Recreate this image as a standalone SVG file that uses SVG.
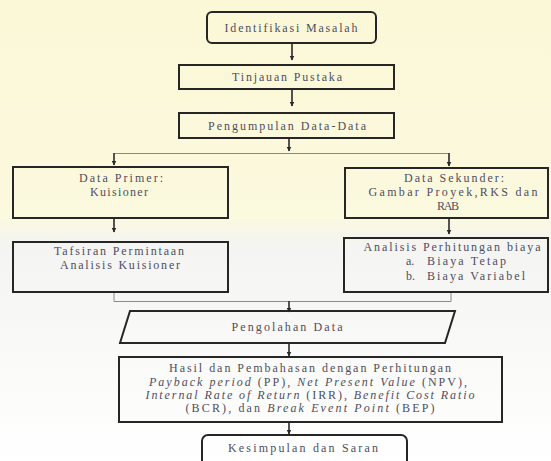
<svg xmlns="http://www.w3.org/2000/svg" width="551" height="461" viewBox="0 0 551 461">
<defs>
<marker id="ah" viewBox="0 0 10 10" refX="9" refY="5" markerWidth="5" markerHeight="5" orient="auto" markerUnits="userSpaceOnUse">
<path d="M0,0 L10,5 L0,10 z" fill="#2a2a2a"/>
</marker>
<linearGradient id="bg" x1="0" y1="0" x2="0" y2="1">
<stop offset="0" stop-color="#fbf8d8"/>
<stop offset="0.47" stop-color="#fbf9de"/>
<stop offset="0.53" stop-color="#f4f4f2"/>
<stop offset="1" stop-color="#ffffff"/>
</linearGradient>
</defs>
<style>
.box{fill:none;stroke:#262626;stroke-width:2}
.t{font-family:"Liberation Serif","Times New Roman",serif;font-size:12px;fill:#4e4e5e;text-anchor:middle}
.tl{font-family:"Liberation Serif","Times New Roman",serif;font-size:12px;fill:#4e4e5e}
.i{font-style:italic}
.arr{stroke:#2a2a2a;stroke-width:1.6;fill:none;marker-end:url(#ah)}
.ln{stroke:#8a8a8a;stroke-width:1;fill:none}
</style>
<rect x="0" y="0" width="551" height="461" fill="url(#bg)"/>

<g id="connectors">
<line class="arr" x1="292" y1="43" x2="292" y2="60"/>
<line class="arr" x1="292" y1="89" x2="292" y2="106"/>
<line class="arr" x1="289" y1="138" x2="289" y2="151"/>
<polyline class="ln" points="114,153.5 449,153.5"/>
<line class="arr" x1="114" y1="153" x2="114" y2="165"/>
<line class="arr" x1="449" y1="153" x2="449" y2="166"/>
<line class="arr" x1="114" y1="218" x2="114" y2="232"/>
<line class="arr" x1="449" y1="218" x2="449" y2="234"/>
<polyline class="ln" points="114,292 114,301.5 451,301.5 451,292"/>
<line class="arr" x1="289" y1="301" x2="289" y2="312"/>
<line class="arr" x1="289" y1="344" x2="289" y2="356"/>
<line class="arr" x1="289" y1="422" x2="289" y2="434"/>
</g>

<g id="identifikasi">
<rect class="box" x="207" y="12" width="169" height="31" rx="5"/>
<text class="t" x="291" y="32" textLength="133" lengthAdjust="spacing">Identifikasi  Masalah</text>
</g>
<g id="tinjauan">
<rect class="box" x="179" y="65" width="215" height="24"/>
<text class="t" x="287" y="81" textLength="110" lengthAdjust="spacing">Tinjauan  Pustaka</text>
</g>
<g id="pengumpulan">
<rect class="box" x="179" y="113" width="215" height="25"/>
<text class="t" x="287" y="130" textLength="158" lengthAdjust="spacing">Pengumpulan  Data-Data</text>
</g>
<g id="data-primer">
<rect class="box" x="13" y="167" width="215" height="51"/>
<text class="t" x="121" y="182" textLength="84" lengthAdjust="spacing">Data Primer:</text>
<text class="t" x="119" y="196" textLength="58" lengthAdjust="spacing">Kuisioner</text>
</g>
<g id="data-sekunder">
<rect class="box" x="345" y="168" width="203" height="50"/>
<text class="t" x="454" y="182" textLength="100" lengthAdjust="spacing">Data Sekunder:</text>
<text class="t" x="453" y="196" textLength="169" lengthAdjust="spacing">Gambar Proyek,RKS dan</text>
<text class="t" x="448" y="210" textLength="22" lengthAdjust="spacing">RAB</text>
</g>
<g id="tafsiran">
<rect class="box" x="13" y="242" width="215" height="50"/>
<text class="t" x="119" y="255" textLength="130" lengthAdjust="spacing">Tafsiran  Permintaan</text>
<text class="t" x="120" y="269" textLength="120" lengthAdjust="spacing">Analisis  Kuisioner</text>
</g>
<g id="analisis">
<rect class="box" x="344" y="238" width="204" height="54"/>
<text class="t" x="452" y="251" textLength="177" lengthAdjust="spacing">Analisis  Perhitungan  biaya</text>
<text class="tl" x="406" y="265">a.</text>
<text class="tl" x="427" y="265" textLength="79" lengthAdjust="spacing">Biaya Tetap</text>
<text class="tl" x="406" y="280">b.</text>
<text class="tl" x="427" y="280" textLength="98" lengthAdjust="spacing">Biaya Variabel</text>
</g>
<g id="pengolahan">
<polygon class="box" points="130,311 455,311 445,343 120,343"/>
<text class="t" x="287" y="331" textLength="111" lengthAdjust="spacing">Pengolahan  Data</text>
</g>
<g id="hasil">
<rect class="box" x="119" y="357" width="383" height="65"/>
<text class="t" x="310" y="372" textLength="282" lengthAdjust="spacing">Hasil  dan Pembahasan  dengan  Perhitungan</text>
<text class="t" x="308" y="386" textLength="318" lengthAdjust="spacing"><tspan class="i">Payback period</tspan> (PP), <tspan class="i">Net Present Value</tspan> (NPV),</text>
<text class="t" x="310" y="399" textLength="329" lengthAdjust="spacing"><tspan class="i">Internal Rate of Return</tspan> (IRR), <tspan class="i">Benefit Cost Ratio</tspan></text>
<text class="t" x="310" y="412" textLength="249" lengthAdjust="spacing">(BCR), dan <tspan class="i">Break Event Point</tspan> (BEP)</text>
</g>
<g id="kesimpulan">
<rect class="box" x="202" y="435" width="205" height="40" rx="6"/>
<text class="t" x="303" y="452" textLength="150" lengthAdjust="spacing">Kesimpulan  dan Saran</text>
</g>
</svg>
